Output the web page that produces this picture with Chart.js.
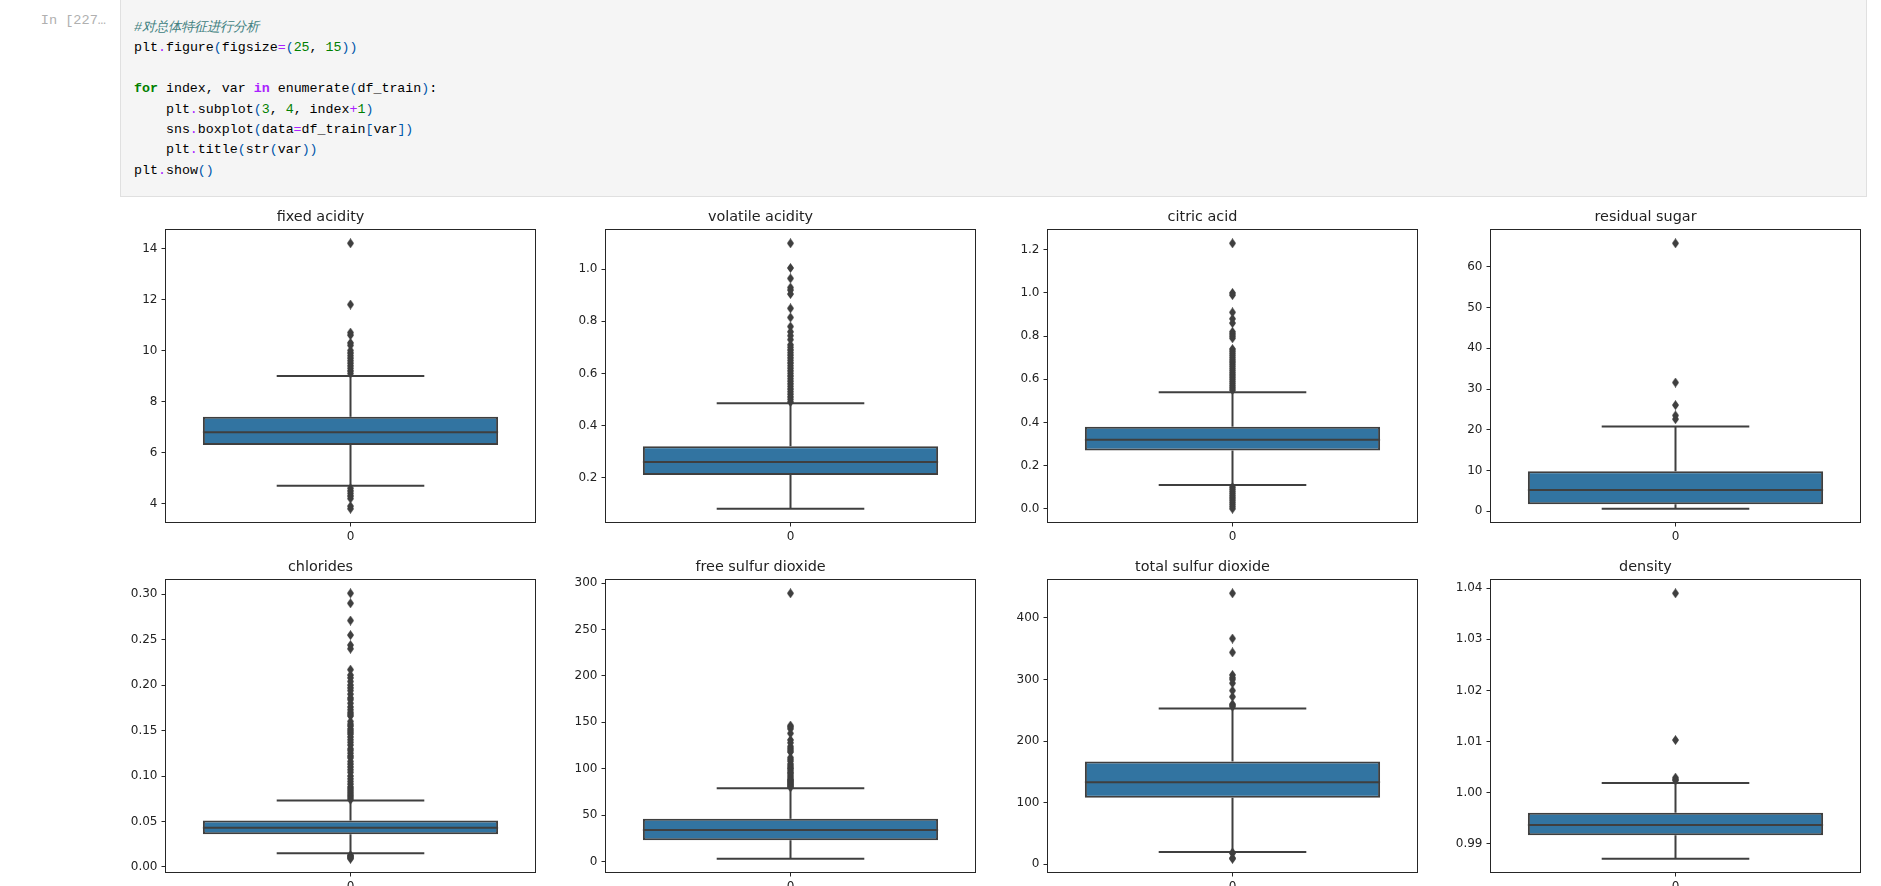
<!DOCTYPE html>
<html>
<head>
<meta charset="utf-8">
<script src="https://cdn.jsdelivr.net/npm/chart.js@4.4.0/dist/chart.umd.min.js"></script>
<style>
html, body { margin: 0; padding: 0; background: #fff; width: 1881px; height: 886px; overflow: hidden; position: relative; }
.prompt { position: absolute; left: 0; width: 106px; top: 11px; text-align: right; font: 13.6px "Liberation Mono", monospace; color: #b0b0b0; line-height: 20px; }
.cell { position: absolute; left: 120px; top: -1px; width: 1747px; height: 198px; background: #f5f5f5; border: 1px solid #e0e0e0; box-sizing: border-box; }
.cell pre { margin: 0; position: absolute; left: 13px; top: 18px; font: 13.3px "Liberation Mono", monospace; line-height: 20.4px; color: #000; }
.cm { color: #408080; font-style: italic; }
.kw { color: #008000; font-weight: bold; }
.ow { color: #aa22ff; font-weight: bold; }
.op { color: #aa22ff; }
.nu { color: #008000; }
.br { color: #0055aa; }
canvas.panel { position: absolute; }
</style>
</head>
<body>
<div class="prompt">In [227…</div>
<div class="cell"><pre><span class="cm">#对总体特征进行分析</span>
plt<span class="op">.</span>figure<span class="br">(</span>figsize<span class="op">=</span><span class="br">(</span><span class="nu">25</span>, <span class="nu">15</span><span class="br">))</span>

<span class="kw">for</span> index, var <span class="ow">in</span> enumerate<span class="br">(</span>df_train<span class="br">)</span>:
    plt<span class="op">.</span>subplot<span class="br">(</span><span class="nu">3</span>, <span class="nu">4</span>, index<span class="op">+</span><span class="nu">1</span><span class="br">)</span>
    sns<span class="op">.</span>boxplot<span class="br">(</span>data<span class="op">=</span>df_train<span class="br">[</span>var<span class="br">])</span>
    plt<span class="op">.</span>title<span class="br">(</span>str<span class="br">(</span>var<span class="br">))</span>
plt<span class="op">.</span>show<span class="br">()</span></pre></div>

<script>
// Box statistics (one entry per feature)
const titles = ['fixed acidity', 'volatile acidity', 'citric acid', 'residual sugar',
                'chlorides', 'free sulfur dioxide', 'total sulfur dioxide', 'density'];
const q1 = [6.3, 0.21, 0.27, 1.7, 0.036, 23, 108, 0.9917];
const medians = [6.8, 0.26, 0.32, 5.2, 0.043, 34, 133, 0.9937];
const q3 = [7.4, 0.32, 0.38, 9.8, 0.051, 46, 167, 0.9961];
const whiskerLow = [4.7, 0.08, 0.11, 0.6, 0.015, 3, 20, 0.98711];
const whiskerHigh = [9.0, 0.485, 0.54, 20.8, 0.073, 79, 253, 1.0019];

// Outliers
const fliersFixedAcidity = [14.2, 11.8, 10.7, 10.6, 10.3, 10.2, 10.0, 9.9, 9.8, 9.7, 9.6, 9.5, 9.4, 9.3, 9.2, 9.1,
                            4.6, 4.5, 4.4, 4.3, 4.2, 3.9, 3.8];
const fliersVolatileAcidity = [1.1, 1.005, 0.965, 0.93, 0.92, 0.905, 0.85, 0.815, 0.78, 0.76, 0.745, 0.73, 0.71,
                               0.7, 0.69, 0.68, 0.67, 0.66, 0.65, 0.64, 0.63, 0.62, 0.61, 0.6, 0.59, 0.58, 0.57,
                               0.56, 0.55, 0.54, 0.53, 0.52, 0.51, 0.5, 0.49];
const fliersCitricAcid = [1.23, 1.0, 0.99, 0.91, 0.88, 0.86, 0.82, 0.81, 0.8, 0.79, 0.74, 0.73, 0.72, 0.71, 0.7,
                          0.69, 0.68, 0.67, 0.66, 0.65, 0.64, 0.63, 0.62, 0.61, 0.6, 0.59, 0.58, 0.57, 0.56, 0.55,
                          0.1, 0.09, 0.08, 0.07, 0.06, 0.05, 0.04, 0.03, 0.02, 0.01, 0.0];
const fliersResidualSugar = [65.8, 31.6, 26.05, 23.5, 22.6];
const fliersChlorides = [0.301, 0.29, 0.271, 0.255, 0.244, 0.24, 0.217, 0.211, 0.208, 0.204, 0.2, 0.197, 0.194,
                         0.19, 0.186, 0.184, 0.18, 0.176, 0.173, 0.17, 0.168, 0.166, 0.16, 0.157, 0.155, 0.152,
                         0.15, 0.148, 0.146, 0.143, 0.14, 0.137, 0.134, 0.13, 0.128, 0.125, 0.122, 0.12, 0.116,
                         0.113, 0.11, 0.107, 0.104, 0.1, 0.097, 0.094, 0.091, 0.088, 0.086, 0.084, 0.082, 0.08,
                         0.078, 0.076, 0.074, 0.013, 0.012, 0.011, 0.01, 0.009];
const fliersFreeSulfur = [289, 146.5, 145, 143, 138, 131, 128, 124, 122, 120, 118, 112, 110, 108, 105, 103, 101,
                          100, 98, 96, 95, 93, 91, 89, 88, 87, 86, 85, 84, 83, 82, 81, 80];
const fliersTotalSulfur = [440, 366.5, 344, 307.5, 303, 300, 294, 282, 272, 260, 258, 256, 19, 18, 10, 9];
const fliersDensity = [1.03898, 1.0103, 1.00295, 1.0026, 1.00241];
const fliers = [fliersFixedAcidity, fliersVolatileAcidity, fliersCitricAcid, fliersResidualSugar,
                fliersChlorides, fliersFreeSulfur, fliersTotalSulfur, fliersDensity];

// Tick labels
const yTicks = [
    [4, 6, 8, 10, 12, 14],
    [0.2, 0.4, 0.6, 0.8, 1.0],
    [0.0, 0.2, 0.4, 0.6, 0.8, 1.0, 1.2],
    [0, 10, 20, 30, 40, 50, 60],
    [0.00, 0.05, 0.10, 0.15, 0.20, 0.25, 0.30],
    [0, 50, 100, 150, 200, 250, 300],
    [0, 100, 200, 300, 400],
    [0.99, 1.00, 1.01, 1.02, 1.03, 1.04]
];
const yDecimals = [0, 1, 1, 0, 2, 0, 0, 2];
const xTicks = [0];

// Layout of the 2x4 grid (plot area corners)
const colLeft = [166, 606, 1048, 1491];
const rowTop = [230, 580];
const plotW = 369, plotH = 292, sideW = 60, titleH = 30, xAxisH = 30;

const BOX_BLUE = '#3274a1';
const GRAY = '#3f3f3f';
const TEXT = '#222222';

Chart.defaults.font.family = '"DejaVu Sans", sans-serif';

// thin diamond marker like matplotlib 'd'
function makeDiamond() {
    const c = document.createElement('canvas');
    c.width = 7;
    c.height = 10;
    const g = c.getContext('2d');
    g.fillStyle = GRAY;
    g.beginPath();
    g.moveTo(3.5, 0);
    g.lineTo(7, 5);
    g.lineTo(3.5, 10);
    g.lineTo(0, 5);
    g.closePath();
    g.fill();
    return c;
}
const diamond = makeDiamond();

// draw the four spines around the plot area
const framePlugin = {
    id: 'frame',
    afterDraw(chart) {
        const { ctx, chartArea: a } = chart;
        ctx.save();
        ctx.strokeStyle = '#262626';
        ctx.lineWidth = 1;
        const l = Math.round(a.left) - 0.5, t = Math.round(a.top) - 0.5;
        const r = Math.round(a.right) + 0.5, b = Math.round(a.bottom) + 0.5;
        ctx.strokeRect(l, t, r - l, b - t);
        ctx.restore();
    }
};

function segment(x0, y0, x1, y1, order) {
    return {
        type: 'line',
        data: [{ x: x0, y: y0 }, { x: x1, y: y1 }],
        borderColor: GRAY,
        borderWidth: 2,
        pointRadius: 0,
        fill: false,
        tension: 0,
        order: order
    };
}

function buildPanel(i) {
    const col = i % 4, row = Math.floor(i / 4);
    const canvas = document.createElement('canvas');
    canvas.className = 'panel';
    canvas.width = sideW + plotW + sideW;
    canvas.height = titleH + plotH + xAxisH;
    canvas.style.left = (colLeft[col] - sideW) + 'px';
    canvas.style.top = (rowTop[row] - titleH) + 'px';
    document.body.appendChild(canvas);

    const fl = fliers[i];
    const dataMin = Math.min(whiskerLow[i], ...fl);
    const dataMax = Math.max(whiskerHigh[i], ...fl);
    const pad = (dataMax - dataMin) * 0.05;

    new Chart(canvas.getContext('2d'), {
        type: 'bar',
        data: {
            datasets: [
                {
                    type: 'scatter',
                    data: fl.map(v => ({ x: 0, y: v })),
                    pointStyle: diamond,
                    pointRadius: 4,
                    order: 1
                },
                segment(-0.4, medians[i], 0.4, medians[i], 2),
                segment(0, q3[i], 0, whiskerHigh[i], 3),
                segment(0, q1[i], 0, whiskerLow[i], 3),
                segment(-0.2, whiskerHigh[i], 0.2, whiskerHigh[i], 3),
                segment(-0.2, whiskerLow[i], 0.2, whiskerLow[i], 3),
                {
                    type: 'bar',
                    data: [{ x: 0, y: [q1[i], q3[i]] }],
                    backgroundColor: BOX_BLUE,
                    borderColor: GRAY,
                    borderWidth: 2,
                    borderSkipped: false,
                    barPercentage: 0.8,
                    categoryPercentage: 1,
                    order: 5
                }
            ]
        },
        options: {
            responsive: false,
            animation: false,
            events: [],
            layout: { padding: { left: 0, right: sideW, top: 0, bottom: 0 } },
            plugins: {
                legend: { display: false },
                tooltip: { enabled: false },
                title: {
                    display: true,
                    text: titles[i],
                    color: TEXT,
                    font: { size: 14.4, weight: 'normal', lineHeight: 1.2 },
                    padding: { top: 9, bottom: 3.72 }
                }
            },
            scales: {
                x: {
                    type: 'linear',
                    min: -0.5,
                    max: 0.5,
                    offset: false,
                    afterBuildTicks: scale => { scale.ticks = xTicks.map(v => ({ value: v })); },
                    afterFit: scale => { scale.height = xAxisH; },
                    ticks: {
                        color: TEXT,
                        font: { size: 12 },
                        padding: 3,
                        callback: v => String(v)
                    },
                    grid: {
                        display: true,
                        offset: false,
                        drawOnChartArea: false,
                        drawTicks: true,
                        tickLength: 4.5,
                        color: '#262626',
                        lineWidth: 1
                    },
                    border: { display: false }
                },
                y: {
                    type: 'linear',
                    beginAtZero: false,
                    min: dataMin - pad,
                    max: dataMax + pad,
                    afterBuildTicks: scale => { scale.ticks = yTicks[i].map(v => ({ value: v })); },
                    afterFit: scale => { scale.width = sideW; },
                    ticks: {
                        color: TEXT,
                        font: { size: 12 },
                        padding: 4,
                        callback: v => Number(v).toFixed(yDecimals[i])
                    },
                    grid: {
                        display: true,
                        drawOnChartArea: false,
                        drawTicks: true,
                        tickLength: 4.5,
                        color: '#262626',
                        lineWidth: 1
                    },
                    border: { display: false }
                }
            }
        },
        plugins: [framePlugin]
    });
}

titles.forEach((t, i) => buildPanel(i));
</script>
</body>
</html>
